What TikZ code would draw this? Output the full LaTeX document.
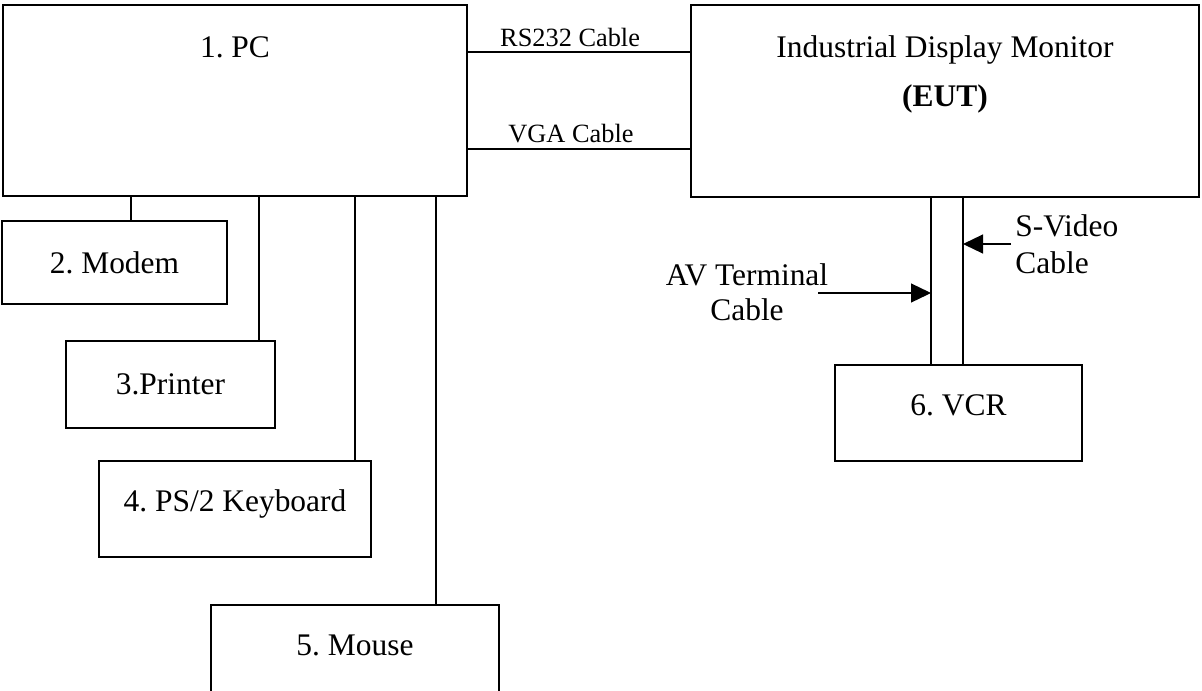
\documentclass[tikz,border=0pt]{standalone}
\usepackage{fontspec}
\setmainfont{Liberation Serif}
\usetikzlibrary{positioning,arrows.meta}
\frenchspacing

\begin{document}
\begin{tikzpicture}[x=0.02cm,y=-0.02cm,
  box/.style={draw,line width=0.7pt,shape=rectangle,inner sep=0pt,font=\fontsize{17.9}{24}\selectfont},
  raised/.style={text depth=0.33cm},
  lbl/.style={inner sep=0pt,font=\fontsize{17.9}{#1}\selectfont},
  cbl/.style={inner sep=0pt,font=\fontsize{15}{18}\selectfont},
  wire/.style={line width=0.7pt},
  arr/.style={line width=0.7pt,-{Triangle[length=0.4cm,width=0.38cm]}}]
   \useasboundingbox (0,0) rectangle (1202,690);
   \clip (0,0) rectangle (1202,690);
   % units
   \node[box,minimum width=9.28cm,minimum height=3.82cm ] (pc)      at (235,100.5) {};
   \node[box,minimum width=10.16cm,minimum height=3.84cm] (mon)     at (945,101)   {};
   \node[box,minimum width=4.5cm,minimum height=1.66cm  ] (modem)   at (114.5,262.5) {2. Modem};
   \node[box,minimum width=4.18cm,minimum height=1.74cm ] (printer) at (170.5,384.5) {3.Printer};
   \node[box,raised,minimum width=5.44cm,minimum height=1.92cm] (kbd)   at (235,509)   {4. PS/2 Keyboard};
   \node[box,raised,minimum width=5.76cm,minimum height=1.92cm] (mouse) at (355,653)   {5. Mouse};
   \node[box,raised,minimum width=4.94cm,minimum height=1.92cm] (vcr)   at (958.5,413) {6. VCR};
   \node[lbl=24,anchor=base] (pcT) at (235,57) {1. PC};
   \node[lbl=27.8,align=center,anchor=north] (monT) at (945,35.5) {Industrial Display Monitor\\\textbf{(EUT)}};
   % cables between PC and monitor
   \coordinate (yRS)  at (0,52);
   \coordinate (yVGA) at (0,149);
   \draw[wire] (pc.east |- yRS)  -- node[cbl,pos=0.46,anchor=base,yshift=0.12cm]  {RS232 Cable} (mon.west |- yRS);
   \draw[wire] (pc.east |- yVGA) -- node[cbl,pos=0.464,anchor=base,yshift=0.14cm] {VGA Cable}   (mon.west |- yVGA);
   % peripherals
   \foreach \dev/\tx in {modem/131,printer/259,kbd/355,mouse/436}{
      \coordinate (tap) at (\tx,0);
      \draw[wire] (pc.south -| tap) -- (\dev.north -| tap);
   }
   % VCR cables
   \coordinate (tAV) at (931,0);
   \coordinate (tSV) at (963,0);
   \draw[wire] (mon.south -| tAV) -- (vcr.north -| tAV);
   \draw[wire] (mon.south -| tSV) -- (vcr.north -| tSV);
   \coordinate (avTail) at (818,293);
   \coordinate (svTail) at (1011,244);
   \draw[arr] (avTail) -- (avTail -| tAV);
   \draw[arr] (svTail) -- (svTail -| tSV);
   \node[lbl=19.8,align=center,anchor=north] (avT) at (747,263.5) {AV Terminal\\Cable};
   \node[lbl=20.8,align=left,anchor=north west] (svT) at (1015,214.5) {S-Video\\Cable};
\end{tikzpicture}
\end{document}
